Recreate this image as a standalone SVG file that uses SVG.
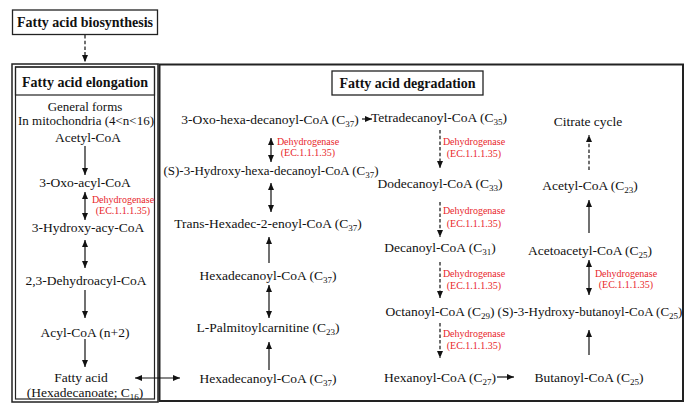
<svg xmlns="http://www.w3.org/2000/svg" width="700" height="413" viewBox="0 0 700 413">
<style>
text{font-family:"Liberation Serif","Times New Roman",serif;font-size:13.5px;fill:#111;text-anchor:middle}
.b{font-weight:bold;font-size:14px}
.r{fill:#e8262b;font-size:10px}
.s{font-size:9px}
.m{font-size:13px}
.box{fill:#fff;stroke:#222;stroke-width:1.3}
.ln{stroke:#111;stroke-width:1.2;fill:none}
.d{stroke-dasharray:3.5,2.2}
.a{marker-end:url(#ah)}
.aa{marker-end:url(#ah);marker-start:url(#ah)}
</style>
<defs>
<marker id="ah" markerUnits="userSpaceOnUse" markerWidth="7" markerHeight="6" refX="7" refY="3" orient="auto-start-reverse">
<path d="M0,0 L7,3 L0,6 z" fill="#111"/>
</marker>
</defs>
<rect width="700" height="413" fill="#fff"/>

<g id="biosynthesis">
<rect class="box" x="12.5" y="10" width="145" height="24.5"/>
<text class="b" x="85" y="27">Fatty acid biosynthesis</text>
</g>

<g id="elongation">
<rect x="12" y="64" width="146" height="338" fill="none" stroke="#222" stroke-width="1.5"/>
<rect x="15.5" y="67" width="139" height="332" fill="none" stroke="#222" stroke-width="1.2"/>
<rect x="15.5" y="67" width="139" height="28" fill="none" stroke="#222" stroke-width="1.2"/>
<text class="b" x="85" y="87">Fatty acid elongation</text>
<text class="m" x="85" y="110.5">General forms</text>
<text class="m" x="86" y="124.5">In mitochondria (4&lt;n&lt;16)</text>
<text x="88" y="141.5">Acetyl-CoA</text>
<text x="85" y="186.5">3-Oxo-acyl-CoA</text>
<text class="r" x="123" y="202.5">Dehydrogenase</text>
<text class="r" x="123" y="213.5">(EC.1.1.1.35)</text>
<text x="88" y="231.5">3-Hydroxy-acy-CoA</text>
<text x="86" y="284.5">2,3-Dehydroacyl-CoA</text>
<text x="85" y="336.5">Acyl-CoA (n+2)</text>
<text x="81" y="381.5">Fatty acid</text>
<text x="85" y="396.5">(Hexadecanoate; C<tspan class="s" dy="3">16</tspan><tspan dy="-3">)</tspan></text>
</g>

<g id="degradation">
<rect x="159.5" y="64.5" width="523.5" height="336.5" fill="none" stroke="#222" stroke-width="2"/>
<rect class="box" x="332" y="71" width="151" height="24"/>
<text class="b" x="407.5" y="88">Fatty acid degradation</text>

<text x="270" y="123.5">3-Oxo-hexa-decanoyl-CoA (C<tspan class="s" dy="3">37</tspan><tspan dy="-3">)</tspan></text>
<text class="r" x="308" y="144.5">Dehydrogenase</text>
<text class="r" x="308" y="155.5">(EC.1.1.1.35)</text>
<text class="m" x="271" y="174.5">(S)-3-Hydroxy-hexa-decanoyl-CoA (C<tspan class="s" dy="3">37</tspan><tspan dy="-3">)</tspan></text>
<text x="268" y="227.5">Trans-Hexadec-2-enoyl-CoA (C<tspan class="s" dy="3">37</tspan><tspan dy="-3">)</tspan></text>
<text x="268" y="279.5">Hexadecanoyl-CoA (C<tspan class="s" dy="3">37</tspan><tspan dy="-3">)</tspan></text>
<text x="268" y="331.5">L-Palmitoylcarnitine (C<tspan class="s" dy="3">23</tspan><tspan dy="-3">)</tspan></text>
<text x="268" y="382.5">Hexadecanoyl-CoA (C<tspan class="s" dy="3">37</tspan><tspan dy="-3">)</tspan></text>

<text x="439" y="121.5">Tetradecanoyl-CoA (C<tspan class="s" dy="3">35</tspan><tspan dy="-3">)</tspan></text>
<text class="r" x="474" y="144.5">Dehydrogenase</text>
<text class="r" x="474" y="156.5">(EC.1.1.1.35)</text>
<text x="440" y="187.5">Dodecanoyl-CoA (C<tspan class="s" dy="3">33</tspan><tspan dy="-3">)</tspan></text>
<text class="r" x="474" y="213.5">Dehydrogenase</text>
<text class="r" x="474" y="226.5">(EC.1.1.1.35)</text>
<text x="440" y="251.5">Decanoyl-CoA (C<tspan class="s" dy="3">31</tspan><tspan dy="-3">)</tspan></text>
<text class="r" x="474" y="276.5">Dehydrogenase</text>
<text class="r" x="474" y="288.5">(EC.1.1.1.35)</text>
<text x="440" y="315.5">Octanoyl-CoA (C<tspan class="s" dy="3">29</tspan><tspan dy="-3">)</tspan></text>
<text class="r" x="474" y="336.5">Dehydrogenase</text>
<text class="r" x="474" y="348.5">(EC.1.1.1.35)</text>
<text x="440" y="381.5">Hexanoyl-CoA (C<tspan class="s" dy="3">27</tspan><tspan dy="-3">)</tspan></text>

<text x="588" y="125.5">Citrate cycle</text>
<text x="590" y="189.5">Acetyl-CoA (C<tspan class="s" dy="3">23</tspan><tspan dy="-3">)</tspan></text>
<text x="590" y="254.5">Acetoacetyl-CoA (C<tspan class="s" dy="3">25</tspan><tspan dy="-3">)</tspan></text>
<text class="r" x="626" y="276.5">Dehydrogenase</text>
<text class="r" x="626" y="287.5">(EC.1.1.1.35)</text>
<text class="m" x="590" y="315.5">(S)-3-Hydroxy-butanoyl-CoA (C<tspan class="s" dy="3">25</tspan><tspan dy="-3">)</tspan></text>
<text x="589" y="381.5">Butanoyl-CoA (C<tspan class="s" dy="3">25</tspan><tspan dy="-3">)</tspan></text>
</g>

<g id="connectors">
<line class="ln d a" x1="85" y1="35" x2="85" y2="62"/>
<line class="ln a" x1="85" y1="146" x2="85" y2="175"/>
<line class="ln aa" x1="85" y1="192" x2="85" y2="220"/>
<line class="ln aa" x1="85" y1="240" x2="85" y2="268"/>
<line class="ln a" x1="85" y1="290" x2="85" y2="318"/>
<line class="ln a" x1="85" y1="339" x2="85" y2="367"/>
<line class="ln aa" x1="135" y1="378" x2="180" y2="378"/>

<line class="ln a" x1="362" y1="119" x2="372" y2="119"/>
<line class="ln aa" x1="271" y1="138" x2="271" y2="162"/>
<line class="ln aa" x1="271" y1="183" x2="271" y2="212"/>
<line class="ln a" x1="269" y1="263" x2="269" y2="237"/>
<line class="ln aa" x1="269" y1="285" x2="269" y2="318"/>
<line class="ln a" x1="269" y1="370" x2="269" y2="342"/>

<line class="ln d a" x1="440" y1="130" x2="440" y2="168"/>
<line class="ln d a" x1="440" y1="202" x2="440" y2="237"/>
<line class="ln d a" x1="440" y1="262" x2="440" y2="298"/>
<line class="ln d a" x1="440" y1="323" x2="440" y2="358"/>
<line class="ln a" x1="497" y1="377" x2="514" y2="377"/>

<line class="ln d a" x1="589" y1="170" x2="589" y2="135"/>
<line class="ln a" x1="589" y1="233" x2="589" y2="200"/>
<line class="ln aa" x1="589" y1="260" x2="589" y2="295"/>
<line class="ln a" x1="589" y1="355" x2="589" y2="330"/>
</g>
</svg>
